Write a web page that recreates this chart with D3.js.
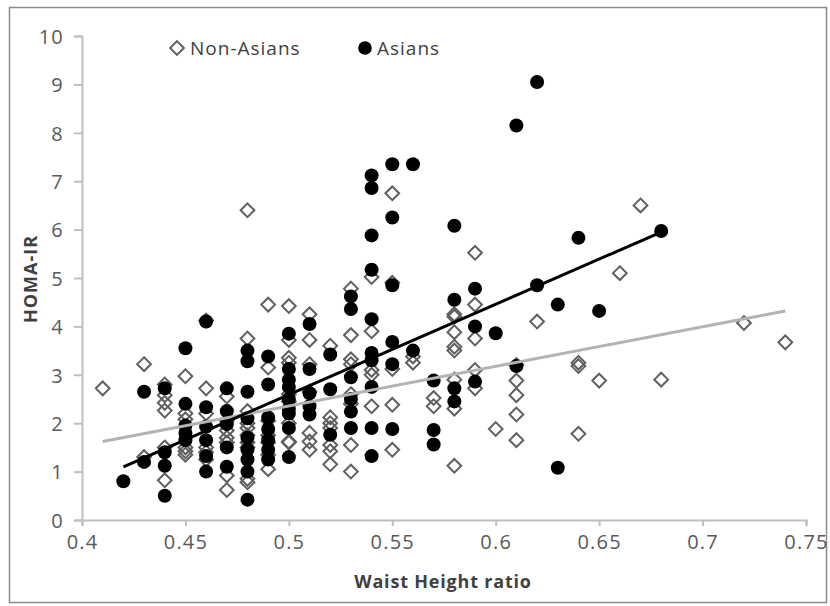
<!DOCTYPE html>
<html>
<head>
<meta charset="utf-8">
<script src="https://cdn.jsdelivr.net/npm/d3@7/dist/d3.min.js"></script>
<style>
  body { margin: 0; background: #fff; }
  text { font-family: "Open Sans", "Noto Sans", sans-serif; }
</style>
</head>
<body>
<script>
// Waist Height ratio (x) vs HOMA-IR (y)
var nonAsians = [
  [0.41, 2.72],
  [0.43, 3.22], [0.43, 1.3],
  [0.44, 2.8], [0.44, 2.58], [0.44, 2.42], [0.44, 2.26], [0.44, 1.5], [0.44, 0.82],
  [0.45, 2.97], [0.45, 2.2], [0.45, 2.08], [0.45, 1.5], [0.45, 1.42], [0.45, 1.35],
  [0.46, 4.12], [0.46, 2.72], [0.46, 2.2], [0.46, 1.5], [0.46, 1.4], [0.46, 1.25],
  [0.47, 2.55], [0.47, 2.05], [0.47, 1.85], [0.47, 1.7], [0.47, 1.6], [0.47, 0.92], [0.47, 0.62],
  [0.48, 6.4], [0.48, 3.75], [0.48, 2.25], [0.48, 2.0], [0.48, 1.9], [0.48, 1.75], [0.48, 1.6], [0.48, 1.5], [0.48, 0.85], [0.48, 0.78],
  [0.49, 4.45], [0.49, 3.15], [0.49, 2.05], [0.49, 1.75], [0.49, 1.6], [0.49, 1.35], [0.49, 1.05],
  [0.5, 4.42], [0.5, 3.72], [0.5, 3.35], [0.5, 3.25], [0.5, 2.6], [0.5, 2.45], [0.5, 2.0], [0.5, 1.62], [0.5, 1.6],
  [0.51, 4.25], [0.51, 3.72], [0.51, 3.22], [0.51, 2.65], [0.51, 1.8], [0.51, 1.62], [0.51, 1.45],
  [0.52, 3.6], [0.52, 2.12], [0.52, 2.0], [0.52, 1.9], [0.52, 1.55], [0.52, 1.42], [0.52, 1.15],
  [0.53, 4.78], [0.53, 3.82], [0.53, 3.32], [0.53, 3.22], [0.53, 2.6], [0.53, 2.4], [0.53, 1.55], [0.53, 1.0],
  [0.54, 5.02], [0.54, 3.9], [0.54, 3.1], [0.54, 3.0], [0.54, 2.35],
  [0.55, 6.75], [0.55, 4.9], [0.55, 3.12], [0.55, 2.38], [0.55, 1.45],
  [0.56, 3.38], [0.56, 3.25],
  [0.57, 2.52], [0.57, 2.35],
  [0.58, 4.25], [0.58, 4.2], [0.58, 3.88], [0.58, 3.58], [0.58, 3.5], [0.58, 2.9], [0.58, 2.3], [0.58, 1.12],
  [0.59, 5.52], [0.59, 4.45], [0.59, 3.75], [0.59, 3.1], [0.59, 2.72],
  [0.6, 1.88],
  [0.61, 3.2], [0.61, 2.88], [0.61, 2.58], [0.61, 2.18], [0.61, 1.65],
  [0.62, 4.1],
  [0.64, 3.25], [0.64, 3.18], [0.64, 1.78],
  [0.65, 2.88],
  [0.66, 5.1],
  [0.67, 6.5],
  [0.68, 2.9],
  [0.72, 4.07],
  [0.74, 3.67]
];

var asians = [
  [0.42, 0.8],
  [0.43, 2.65], [0.43, 1.2],
  [0.44, 2.72], [0.44, 1.4], [0.44, 1.12], [0.44, 0.5],
  [0.45, 3.55], [0.45, 2.4], [0.45, 1.95], [0.45, 1.8], [0.45, 1.65],
  [0.46, 4.1], [0.46, 2.33], [0.46, 1.93], [0.46, 1.65], [0.46, 1.32], [0.46, 1.0],
  [0.47, 2.72], [0.47, 2.25], [0.47, 1.98], [0.47, 1.5], [0.47, 1.1],
  [0.48, 3.5], [0.48, 3.28], [0.48, 2.65], [0.48, 2.1], [0.48, 1.7], [0.48, 1.45], [0.48, 1.25], [0.48, 1.0], [0.48, 0.42],
  [0.49, 3.38], [0.49, 2.8], [0.49, 2.12], [0.49, 1.88], [0.49, 1.65], [0.49, 1.45], [0.49, 1.25],
  [0.5, 3.85], [0.5, 3.12], [0.5, 2.9], [0.5, 2.75], [0.5, 2.5], [0.5, 2.3], [0.5, 2.2], [0.5, 1.9], [0.5, 1.3],
  [0.51, 4.05], [0.51, 3.12], [0.51, 2.62], [0.51, 2.35], [0.51, 2.18],
  [0.52, 3.42], [0.52, 2.7], [0.52, 1.76],
  [0.53, 4.62], [0.53, 4.36], [0.53, 2.95], [0.53, 2.5], [0.53, 2.24], [0.53, 1.9],
  [0.54, 7.12], [0.54, 6.86], [0.54, 5.88], [0.54, 5.17], [0.54, 4.15], [0.54, 3.45], [0.54, 3.3], [0.54, 2.75], [0.54, 1.9], [0.54, 1.32],
  [0.55, 7.35], [0.55, 6.25], [0.55, 4.85], [0.55, 3.68], [0.55, 3.22], [0.55, 1.88],
  [0.56, 7.35], [0.56, 3.5],
  [0.57, 2.88], [0.57, 1.86], [0.57, 1.56],
  [0.58, 6.08], [0.58, 4.55], [0.58, 2.72], [0.58, 2.45],
  [0.59, 4.78], [0.59, 4.0], [0.59, 2.86],
  [0.6, 3.86],
  [0.61, 8.15], [0.61, 3.18],
  [0.62, 9.05], [0.62, 4.85],
  [0.63, 4.45], [0.63, 1.08],
  [0.64, 5.83],
  [0.65, 4.32],
  [0.68, 5.97]
];

// linear trend lines, end points
var nonAsianTrend = [[0.41, 1.62], [0.74, 4.32]];
var asianTrend    = [[0.42, 1.1], [0.68, 5.95]];

var xTicks = [0.4, 0.45, 0.5, 0.55, 0.6, 0.65, 0.7, 0.75];
var yTicks = [0, 1, 2, 3, 4, 5, 6, 7, 8, 9, 10];

var WIDTH = 830, HEIGHT = 606;
var plotLeft = 82, plotRight = 806, plotTop = 36, plotBottom = 520;

var svg = d3.select('body').append('svg')
  .attr('width', WIDTH)
  .attr('height', HEIGHT);

// outer frame
svg.append('rect')
  .attr('x', 9.5).attr('y', 7.5)
  .attr('width', 817).attr('height', 595)
  .attr('fill', 'none')
  .attr('stroke', '#8c8c8c')
  .attr('stroke-width', 1.5);

var x = d3.scaleLinear().domain([0.4, 0.75]).range([plotLeft, plotRight]);
var y = d3.scaleLinear().domain([0, 10]).range([plotBottom, plotTop]);

var xAxis = svg.append('g')
  .attr('transform', 'translate(0,' + plotBottom + ')')
  .call(d3.axisBottom(x).tickValues(xTicks).tickFormat(d3.format('')).tickSize(6).tickPadding(9));

var yAxis = svg.append('g')
  .attr('transform', 'translate(' + plotLeft + ',0)')
  .call(d3.axisLeft(y).tickValues(yTicks).tickSize(8).tickPadding(10));

[xAxis, yAxis].forEach(function(g) {
  g.select('.domain').attr('stroke', '#bfbfbf').attr('stroke-width', 2);
  g.selectAll('.tick line').attr('stroke', '#bfbfbf').attr('stroke-width', 2);
  g.selectAll('.tick text')
    .attr('fill', '#595959')
    .style('font-size', '20px')
    .style('letter-spacing', '1.2px')
    .style('font-family', '"Open Sans", sans-serif');
});
yAxis.selectAll('.tick text').attr('dy', '0.36em');

// axis titles
svg.append('text')
  .attr('x', 443).attr('y', 588)
  .attr('text-anchor', 'middle')
  .attr('fill', '#404040')
  .style('font-size', '18px')
  .style('letter-spacing', '0.8px')
  .style('font-weight', 'bold')
  .text('Waist Height ratio');

svg.append('text')
  .attr('transform', 'translate(37,279) rotate(-90)')
  .attr('text-anchor', 'middle')
  .attr('fill', '#404040')
  .style('font-size', '18px')
  .style('letter-spacing', '1px')
  .style('font-weight', 'bold')
  .text('HOMA-IR');

// soft edge like the original bitmap
var defs = svg.append('defs');
defs.append('filter').attr('id', 'soft')
  .append('feGaussianBlur').attr('stdDeviation', 0.6);

var diamond = d3.symbol().type(d3.symbolDiamond2).size(120);

var marks = svg.append('g').attr('filter', 'url(#soft)');

marks.selectAll('path.na')
  .data(nonAsians)
  .enter()
  .append('path')
  .attr('class', 'na')
  .attr('d', diamond)
  .attr('transform', function(d) { return 'translate(' + x(d[0]) + ',' + y(d[1]) + ')'; })
  .attr('fill', 'none')
  .attr('stroke', '#5f5f5f')
  .attr('stroke-width', 2);

marks.selectAll('circle.as')
  .data(asians)
  .enter()
  .append('circle')
  .attr('class', 'as')
  .attr('cx', function(d) { return x(d[0]); })
  .attr('cy', function(d) { return y(d[1]); })
  .attr('r', 7)
  .attr('fill', '#000');

var line = d3.line()
  .x(function(d) { return x(d[0]); })
  .y(function(d) { return y(d[1]); });

marks.append('path')
  .datum(nonAsianTrend)
  .attr('d', line)
  .attr('stroke', '#b3b3b3')
  .attr('stroke-width', 3)
  .attr('fill', 'none');

marks.append('path')
  .datum(asianTrend)
  .attr('d', line)
  .attr('stroke', '#000')
  .attr('stroke-width', 3)
  .attr('fill', 'none');

// legend
var legend = svg.append('g').attr('filter', 'url(#soft)');
legend.append('path')
  .attr('d', diamond)
  .attr('transform', 'translate(177,48)')
  .attr('fill', 'none')
  .attr('stroke', '#5f5f5f')
  .attr('stroke-width', 2);
legend.append('circle')
  .attr('cx', 365).attr('cy', 48).attr('r', 6.8)
  .attr('fill', '#000');

svg.append('text')
  .attr('x', 190).attr('y', 55)
  .attr('fill', '#404040')
  .style('font-size', '19px')
  .style('letter-spacing', '1px')
  .text('Non-Asians');
svg.append('text')
  .attr('x', 377).attr('y', 55)
  .attr('fill', '#404040')
  .style('font-size', '19px')
  .style('letter-spacing', '1px')
  .text('Asians');
</script>
</body>
</html>
